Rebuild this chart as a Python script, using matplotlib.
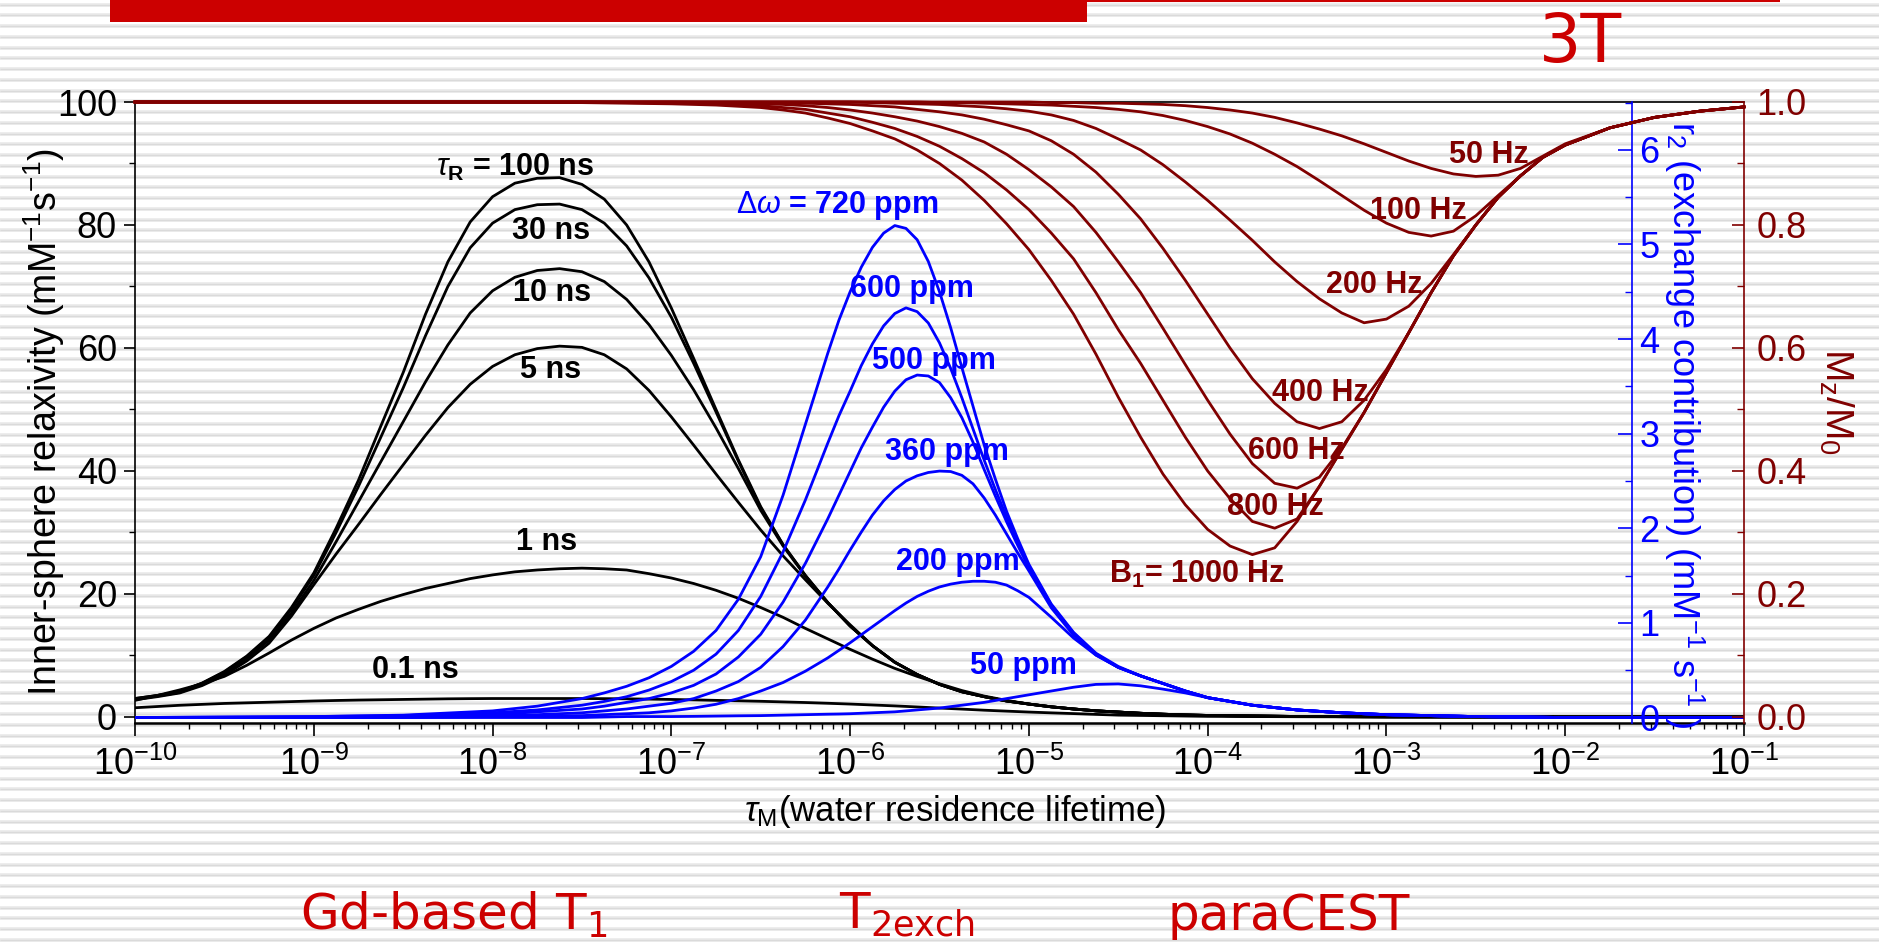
import numpy as np
import matplotlib
matplotlib.use("Agg")
import matplotlib.pyplot as plt
from matplotlib.patches import Rectangle
from matplotlib.ticker import MultipleLocator, LogLocator, NullFormatter, FormatStrFormatter

plt.rcParams.update({
    "font.family": ["Liberation Sans", "DejaVu Sans"],
    "mathtext.fontset": "custom",
    "mathtext.rm": "Liberation Sans",
    "mathtext.it": "Liberation Sans:italic",
    "mathtext.bf": "Liberation Sans:bold",
})

BLUE = "#0000ff"
MAROON = "#800000"
RED = "#cc0000"

# ── Data: Gd-based T1 (inner-sphere relaxivity, left axis) ───────────────────
LOG_TAU_GD = [-10.0, -9.875, -9.75, -9.625, -9.5, -9.375, -9.25, -9.125,
              -9.0, -8.875, -8.75, -8.625, -8.5, -8.375, -8.25, -8.125,
              -8.0, -7.875, -7.75, -7.625, -7.5, -7.375, -7.25, -7.125,
              -7.0, -6.875, -6.75, -6.625, -6.5, -6.375, -6.25, -6.125,
              -6.0, -5.875, -5.75, -5.625, -5.5, -5.375, -5.25, -5.125,
              -5.0, -4.875, -4.75, -4.625, -4.5, -4.375, -4.25, -4.125,
              -4.0, -3.5, -3.0, -2.0, -1.0]
R1_100NS = [3.0, 3.5, 4.1, 5.5, 7.4, 9.9, 13.1, 17.8,
            23.4, 30.7, 38.5, 47.3, 56.0, 65.5, 74.0, 80.5,
            84.6, 86.8, 87.6, 87.7, 86.6, 84.2, 80.0, 74.0,
            66.5, 58.3, 50.0, 41.8, 34.2, 28.0, 23.0, 18.6,
            14.8, 11.6, 8.9, 6.9, 5.3, 4.1, 3.3, 2.6,
            2.1, 1.65, 1.3, 1.0, 0.8, 0.6, 0.45, 0.33,
            0.25, 0.08, 0.03, 0.0, 0.0]
R1_30NS = [3.0, 3.5, 4.1, 5.5, 7.3, 9.8, 12.9, 17.5,
           23.0, 30.0, 37.5, 45.5, 53.5, 62.0, 70.0, 76.3,
           80.3, 82.5, 83.3, 83.4, 82.5, 80.3, 76.6, 71.4,
           65.0, 57.5, 49.6, 41.6, 34.0, 28.0, 23.0, 18.6,
           14.8, 11.6, 8.9, 6.9, 5.3, 4.1, 3.3, 2.6,
           2.1, 1.65, 1.3, 1.0, 0.8, 0.6, 0.45, 0.33,
           0.25, 0.08, 0.03, 0.0, 0.0]
R1_10NS = [2.9, 3.4, 4.0, 5.3, 7.1, 9.5, 12.5, 16.9,
           22.2, 28.5, 35.0, 41.5, 48.0, 54.5, 60.5, 65.7,
           69.3, 71.5, 72.6, 72.9, 72.4, 70.8, 67.9, 63.8,
           58.8, 53.2, 47.0, 40.4, 33.6, 27.8, 22.9, 18.6,
           14.8, 11.6, 8.9, 6.9, 5.3, 4.1, 3.3, 2.6,
           2.1, 1.65, 1.3, 1.0, 0.8, 0.6, 0.45, 0.33,
           0.25, 0.08, 0.03, 0.0, 0.0]
R1_5NS = [2.8, 3.3, 3.9, 5.1, 6.8, 9.1, 12.0, 16.4,
          21.5, 26.5, 31.3, 36.2, 41.0, 45.8, 50.3, 54.1,
          57.0, 58.9, 59.9, 60.3, 60.1, 58.9, 56.6, 53.1,
          48.8, 44.2, 39.5, 34.9, 30.4, 26.2, 22.3, 18.5,
          15.0, 11.6, 8.9, 6.9, 5.3, 4.1, 3.3, 2.6,
          2.1, 1.65, 1.3, 1.0, 0.8, 0.6, 0.45, 0.33,
          0.25, 0.08, 0.03, 0.0, 0.0]
R1_1NS = [2.7, 3.5, 4.4, 5.4, 6.6, 8.4, 10.4, 12.5,
          14.4, 16.1, 17.5, 18.8, 19.9, 20.9, 21.7, 22.5,
          23.1, 23.6, 23.9, 24.1, 24.2, 24.1, 23.9, 23.3,
          22.6, 21.7, 20.6, 19.3, 17.8, 16.2, 14.4, 12.7,
          11.0, 9.4, 7.9, 6.6, 5.4, 4.3, 3.4, 2.7,
          2.1, 1.65, 1.3, 1.0, 0.8, 0.6, 0.45, 0.33,
          0.25, 0.08, 0.03, 0.0, 0.0]
R1_01NS = [1.5, 1.7, 1.9, 2.05, 2.2, 2.3, 2.4, 2.5,
           2.6, 2.68, 2.75, 2.8, 2.85, 2.9, 2.95, 2.98,
           3.0, 3.0, 3.0, 3.0, 3.0, 2.98, 2.95, 2.9,
           2.85, 2.78, 2.7, 2.63, 2.55, 2.45, 2.35, 2.23,
           2.1, 1.95, 1.8, 1.63, 1.45, 1.28, 1.1, 0.95,
           0.8, 0.67, 0.55, 0.42, 0.3, 0.25, 0.2, 0.15,
           0.1, 0.04, 0.01, 0.0, 0.0]
R1_SERIES = [R1_100NS, R1_30NS, R1_10NS, R1_5NS, R1_1NS, R1_01NS]
R1_LABELS = [r"$\tau_\mathbf{R}$ = 100 ns", "30 ns", "10 ns", "5 ns", "1 ns", "0.1 ns"]
R1_LABEL_AT = [(-7.875, 89.3), (-7.673, 79.0), (-7.667, 68.9),
               (-7.673, 56.4), (-7.696, 28.4), (-8.434, 7.6)]

# ── Data: T2exch (exchange contribution, blue axis) ──────────────────────────
LOG_TAU_EX = [-10.0, -9.0, -8.5, -8.0, -7.75,
              -7.5, -7.375, -7.25, -7.125, -7.0, -6.875, -6.75, -6.625, -6.5, -6.375, -6.25,
              -6.125, -6.0625, -6.0, -5.9375, -5.875, -5.8125, -5.75, -5.6875, -5.625,
              -5.5625, -5.5, -5.4375, -5.375, -5.3125, -5.25, -5.1875, -5.125, -5.0625, -5.0,
              -4.875, -4.75, -4.625, -4.5, -4.375, -4.25, -4.125, -4.0,
              -3.75, -3.5, -3.25, -3.0, -2.5, -2.0, -1.0]
R2_720 = [0.0, 0.01, 0.025, 0.07, 0.12,
          0.2, 0.26, 0.33, 0.42, 0.54, 0.7, 0.92, 1.25, 1.7, 2.35, 3.1,
          3.85, 4.2, 4.5, 4.76, 4.97, 5.12, 5.2, 5.17, 5.05,
          4.82, 4.5, 4.12, 3.7, 3.29, 2.88, 2.52, 2.18, 1.89, 1.62,
          1.2, 0.9, 0.68, 0.54, 0.44, 0.36, 0.28, 0.21,
          0.13, 0.08, 0.05, 0.03, 0.01, 0.0, 0.0]
R2_600 = [0.0, 0.01, 0.02, 0.05, 0.08,
          0.13, 0.17, 0.22, 0.29, 0.38, 0.5, 0.67, 0.92, 1.28, 1.75, 2.3,
          2.9, 3.19, 3.45, 3.72, 3.95, 4.14, 4.27, 4.33, 4.29,
          4.17, 3.96, 3.69, 3.38, 3.05, 2.72, 2.41, 2.12, 1.85, 1.6,
          1.19, 0.89, 0.67, 0.53, 0.44, 0.36, 0.28, 0.21,
          0.13, 0.08, 0.05, 0.03, 0.01, 0.0, 0.0]
R2_500 = [0.0, 0.0, 0.015, 0.03, 0.06,
          0.09, 0.12, 0.16, 0.2, 0.26, 0.34, 0.46, 0.64, 0.88, 1.22, 1.63,
          2.1, 2.35, 2.6, 2.85, 3.07, 3.28, 3.45, 3.57, 3.62,
          3.61, 3.54, 3.38, 3.17, 2.91, 2.62, 2.34, 2.07, 1.82, 1.58,
          1.18, 0.88, 0.67, 0.53, 0.44, 0.36, 0.28, 0.21,
          0.13, 0.08, 0.05, 0.03, 0.01, 0.0, 0.0]
R2_360 = [0.0, 0.0, 0.01, 0.02, 0.03,
          0.05, 0.07, 0.09, 0.12, 0.15, 0.2, 0.28, 0.38, 0.53, 0.75, 1.03,
          1.38, 1.57, 1.77, 1.96, 2.14, 2.29, 2.41, 2.5, 2.555,
          2.59, 2.605, 2.6, 2.56, 2.47, 2.32, 2.14, 1.94, 1.74, 1.55,
          1.16, 0.87, 0.66, 0.53, 0.44, 0.36, 0.28, 0.21,
          0.13, 0.08, 0.05, 0.03, 0.01, 0.0, 0.0]
R2_200 = [0.0, 0.0, 0.0, 0.01, 0.015,
          0.02, 0.03, 0.04, 0.05, 0.07, 0.1, 0.14, 0.2, 0.28, 0.37, 0.49,
          0.63, 0.71, 0.79, 0.875, 0.96, 1.045, 1.13, 1.21, 1.28,
          1.335, 1.38, 1.41, 1.43, 1.44, 1.44, 1.43, 1.4, 1.34, 1.27,
          1.06, 0.84, 0.66, 0.53, 0.44, 0.36, 0.28, 0.21,
          0.13, 0.08, 0.05, 0.03, 0.01, 0.0, 0.0]
R2_50 = [0.0, 0.0, 0.0, 0.0, 0.0,
         0.0, 0.005, 0.01, 0.01, 0.01, 0.012, 0.015, 0.018, 0.02, 0.025, 0.03,
         0.035, 0.037, 0.04, 0.045, 0.05, 0.055, 0.06, 0.07, 0.08,
         0.09, 0.1, 0.115, 0.13, 0.145, 0.16, 0.18, 0.2, 0.22, 0.24,
         0.28, 0.32, 0.35, 0.355, 0.335, 0.3, 0.26, 0.21,
         0.13, 0.08, 0.05, 0.03, 0.01, 0.0, 0.0]
R2_SERIES = [R2_720, R2_600, R2_500, R2_360, R2_200, R2_50]
R2_LABELS = [r"$\mathit{\Delta\omega}$ = 720 ppm", "600 ppm", "500 ppm",
             "360 ppm", "200 ppm", "50 ppm"]
R2_LABEL_AT = [(-6.07, 5.41), (-5.654, 4.53), (-5.531, 3.77),
               (-5.461, 2.81), (-5.40, 1.64), (-5.028, 0.544)]

# ── Data: paraCEST (Mz/M0, right axis) ───────────────────────────────────────
LOG_TAU_CEST = [-10.0, -8.0, -7.5, -7.0, -6.75,
                -6.5, -6.375, -6.25, -6.125, -6.0, -5.875, -5.75, -5.625,
                -5.5, -5.375, -5.25, -5.125, -5.0, -4.875, -4.75, -4.625,
                -4.5, -4.375, -4.25, -4.125, -4.0, -3.875, -3.75, -3.625,
                -3.5, -3.375, -3.25, -3.125, -3.0, -2.875, -2.75, -2.625,
                -2.5, -2.375, -2.25, -2.125, -2.0,
                -1.75, -1.5, -1.25, -1.0]
MZ_1000 = [1.0, 1.0, 0.999, 0.997, 0.995,
           0.991, 0.987, 0.982, 0.974, 0.965, 0.953, 0.94, 0.922,
           0.90, 0.873, 0.84, 0.802, 0.76, 0.71, 0.655, 0.59,
           0.52, 0.455, 0.395, 0.345, 0.305, 0.278, 0.264, 0.275,
           0.318, 0.375, 0.435, 0.495, 0.56, 0.625, 0.69, 0.75,
           0.80, 0.845, 0.88, 0.91, 0.93,
           0.958, 0.975, 0.985, 0.992]
MZ_800 = [1.0, 1.0, 1.0, 0.998, 0.997,
          0.994, 0.991, 0.988, 0.982, 0.976, 0.967, 0.957, 0.944,
          0.928, 0.908, 0.885, 0.857, 0.825, 0.787, 0.745, 0.69,
          0.63, 0.575, 0.515, 0.455, 0.40, 0.355, 0.318, 0.307,
          0.322, 0.375, 0.435, 0.495, 0.56, 0.625, 0.69, 0.75,
          0.80, 0.845, 0.88, 0.91, 0.93,
          0.958, 0.975, 0.985, 0.992]
MZ_600 = [1.0, 1.0, 1.0, 0.999, 0.998,
          0.997, 0.996, 0.994, 0.991, 0.987, 0.982, 0.976, 0.969,
          0.96, 0.949, 0.935, 0.915, 0.89, 0.862, 0.83, 0.788,
          0.74, 0.69, 0.632, 0.573, 0.515, 0.46, 0.412, 0.38,
          0.372, 0.39, 0.437, 0.495, 0.56, 0.625, 0.69, 0.75,
          0.80, 0.845, 0.88, 0.91, 0.93,
          0.958, 0.975, 0.985, 0.992]
MZ_400 = [1.0, 1.0, 1.0, 1.0, 0.999,
          0.999, 0.998, 0.998, 0.997, 0.996, 0.994, 0.992, 0.988,
          0.984, 0.979, 0.972, 0.963, 0.953, 0.937, 0.915, 0.886,
          0.85, 0.81, 0.762, 0.71, 0.655, 0.60, 0.55, 0.51,
          0.48, 0.469, 0.48, 0.515, 0.565, 0.625, 0.69, 0.75,
          0.80, 0.845, 0.88, 0.91, 0.93,
          0.958, 0.975, 0.985, 0.992]
MZ_200 = [1.0, 1.0, 1.0, 1.0, 1.0,
          1.0, 1.0, 1.0, 1.0, 1.0, 0.999, 0.998, 0.997,
          0.996, 0.994, 0.992, 0.989, 0.985, 0.979, 0.97, 0.957,
          0.94, 0.922, 0.898, 0.87, 0.84, 0.808, 0.775, 0.74,
          0.708, 0.68, 0.657, 0.641, 0.647, 0.668, 0.705, 0.752,
          0.80, 0.845, 0.88, 0.91, 0.93,
          0.958, 0.975, 0.985, 0.992]
MZ_100 = [1.0, 1.0, 1.0, 1.0, 1.0,
          1.0, 1.0, 1.0, 1.0, 1.0, 1.0, 1.0, 1.0,
          0.999, 0.999, 0.998, 0.997, 0.996, 0.995, 0.993, 0.991,
          0.988, 0.984, 0.978, 0.97, 0.96, 0.948, 0.933, 0.915,
          0.895, 0.872, 0.848, 0.824, 0.803, 0.788, 0.782, 0.79,
          0.815, 0.848, 0.88, 0.91, 0.93,
          0.958, 0.975, 0.985, 0.992]
MZ_50 = [1.0, 1.0, 1.0, 1.0, 1.0,
         1.0, 1.0, 1.0, 1.0, 1.0, 1.0, 1.0, 1.0,
         1.0, 1.0, 1.0, 1.0, 1.0, 0.999, 0.999, 0.998,
         0.998, 0.997, 0.996, 0.994, 0.991, 0.987, 0.982, 0.975,
         0.966, 0.956, 0.945, 0.932, 0.918, 0.904, 0.892, 0.883,
         0.879, 0.881, 0.892, 0.912, 0.932,
         0.958, 0.975, 0.985, 0.992]
MZ_SERIES = [MZ_50, MZ_100, MZ_200, MZ_400, MZ_600, MZ_800, MZ_1000]
MZ_LABELS = ["50 Hz", "100 Hz", "200 Hz", "400 Hz", "600 Hz", "800 Hz",
             r"B$_\mathbf{1}$= 1000 Hz"]
MZ_LABEL_AT = [(-2.427, 0.914), (-2.819, 0.823), (-3.07, 0.702), (-3.37, 0.527),
               (-3.504, 0.432), (-3.624, 0.342), (-4.06, 0.2325)]

# ── Figure & slide background ────────────────────────────────────────────────
W, H = 1879, 947
fig = plt.figure(figsize=(W / 100, H / 100), dpi=100)
bg = fig.add_axes([0, 0, 1, 1], zorder=-10)
bg.set_xlim(0, W)
bg.set_ylim(H, 0)
bg.axis("off")
stripes = np.arange(4.7, H, 10.75)
bg.hlines(stripes, 0, W, color="#e9e9e9", lw=2.6, zorder=1)
bg.hlines(stripes, 0, W, color="#dadada", lw=0.9, zorder=1)
bg.add_patch(Rectangle((110, 0), 977, 22, color=RED, lw=0, zorder=3))
bg.hlines(1.0, 1087, 1780, color=RED, lw=1.5, zorder=3)

bg.text(1581, 62, "3T", color=RED, fontsize=48, family="DejaVu Sans",
        ha="center", va="baseline")
bg.text(300, 930, r"Gd-based T$_\mathregular{1}$", color=RED, fontsize=36,
        family="DejaVu Sans", ha="left", va="baseline")
bg.text(839, 928, r"T$_\mathregular{2exch}$", color=RED, fontsize=36,
        family="DejaVu Sans", ha="left", va="baseline")
bg.text(1168, 930, "paraCEST", color=RED, fontsize=36,
        family="DejaVu Sans", ha="left", va="baseline")

# ── Main axes (left, black) ─────────────────────────────────────────────────
ax = fig.add_axes([135 / W, 1 - 723 / H, 1609 / W, 621 / H])
ax.set_facecolor("none")
ax.set_xscale("log")
ax.set_xlim(1e-10, 1e-1)
ax.set_ylim(-0.98, 100)

x_gd = 10.0 ** np.array(LOG_TAU_GD)
for ys in R1_SERIES:
    ax.plot(x_gd, ys, color="black", lw=2.0)
for lab, (lx, yv) in zip(R1_LABELS, R1_LABEL_AT):
    ax.text(10 ** lx, yv, lab, color="black", fontsize=22, fontweight="bold",
            ha="center", va="center")

ax.xaxis.set_major_locator(LogLocator(base=10, numticks=20))
ax.xaxis.set_minor_locator(LogLocator(base=10, subs=np.arange(2, 10) * 1.0, numticks=100))
ax.xaxis.set_minor_formatter(NullFormatter())
ax.yaxis.set_major_locator(MultipleLocator(20))
ax.yaxis.set_minor_locator(MultipleLocator(10))
ax.tick_params(axis="x", which="major", direction="out", length=9, width=1.2,
               labelsize=26, pad=8, top=False)
ax.tick_params(axis="x", which="minor", direction="out", length=4.5, width=1.0, top=False)
ax.tick_params(axis="y", which="major", direction="out", length=8, width=1.2,
               labelsize=26, pad=5, right=False)
ax.tick_params(axis="y", which="minor", direction="out", length=4, width=1.0, right=False)
for side in ("left", "top"):
    ax.spines[side].set_linewidth(1.2)
ax.spines["bottom"].set_linewidth(1.8)
ax.spines["right"].set_visible(False)

ax.set_xlabel(r"$\tau_\mathregular{M}$(water residence lifetime)", fontsize=25)
ax.xaxis.set_label_coords(0.51, -0.143)
ax.xaxis.label.set(va="center", ha="center")
ax.set_ylabel(r"Inner-sphere relaxivity (mM$^{-1}$s$^{-1}$)", fontsize=27)
ax.yaxis.set_label_coords(-0.0565, 0.485)
ax.yaxis.label.set(va="center", ha="center", rotation_mode="default")

# ── Blue axis (T2exch) ──────────────────────────────────────────────────────
ax_b = ax.twinx()
ax_b.set_ylim(-0.058, 6.506)
ax_b.spines["right"].set_position(("axes", 0.9307))
ax_b.spines["right"].set_color(BLUE)
ax_b.spines["right"].set_linewidth(1.2)
for side in ("left", "top", "bottom"):
    ax_b.spines[side].set_visible(False)
x_ex = 10.0 ** np.array(LOG_TAU_EX)
for ys in R2_SERIES:
    ax_b.plot(x_ex, ys, color=BLUE, lw=2.0)
for lab, (lx, yv) in zip(R2_LABELS, R2_LABEL_AT):
    ax_b.text(10 ** lx, yv, lab, color=BLUE, fontsize=22, fontweight="bold",
              ha="center", va="center")
ax_b.yaxis.set_major_locator(MultipleLocator(1))
ax_b.yaxis.set_minor_locator(MultipleLocator(0.5))
ax_b.tick_params(axis="y", which="major", direction="in", length=10, width=1.2,
                 colors=BLUE, labelsize=26, pad=5)
ax_b.tick_params(axis="y", which="minor", direction="in", length=5, width=1.0, colors=BLUE)
ax_b.set_ylabel(r"r$_2$ (exchange contribution) (mM$^{-1}$ s$^{-1}$ )",
                fontsize=26, color=BLUE, rotation=-90)
ax_b.yaxis.set_label_coords(0.9625, 0.48)
ax_b.yaxis.label.set(va="center", ha="center", rotation_mode="default")

# ── Dark red axis (paraCEST) ────────────────────────────────────────────────
ax_r = ax.twinx()
ax_r.set_ylim(-0.0098, 1.0)
ax_r.spines["right"].set_color(MAROON)
ax_r.spines["right"].set_linewidth(1.2)
for side in ("left", "top", "bottom"):
    ax_r.spines[side].set_visible(False)
x_cest = 10.0 ** np.array(LOG_TAU_CEST)
for ys in MZ_SERIES:
    ax_r.plot(x_cest, ys, color=MAROON, lw=2.0, clip_on=False)
for lab, (lx, yv) in zip(MZ_LABELS, MZ_LABEL_AT):
    ax_r.text(10 ** lx, yv, lab, color=MAROON, fontsize=22, fontweight="bold",
              ha="center", va="center")
ax_r.yaxis.set_major_locator(MultipleLocator(0.2))
ax_r.yaxis.set_minor_locator(MultipleLocator(0.1))
ax_r.yaxis.set_major_formatter(FormatStrFormatter("%.1f"))
ax_r.tick_params(axis="y", which="major", direction="in", length=9, width=1.2,
                 colors=MAROON, labelsize=26, pad=9)
ax_r.tick_params(axis="y", which="minor", direction="in", length=5, width=1.0, colors=MAROON)
ax_r.set_ylabel(r"M$_\mathregular{z}$/M$_\mathregular{0}$", fontsize=28,
                color=MAROON, rotation=-90)
ax_r.yaxis.set_label_coords(1.0575, 0.518)
ax_r.yaxis.label.set(va="center", ha="center", rotation_mode="default")

fig.savefig("out.png", dpi=100)
